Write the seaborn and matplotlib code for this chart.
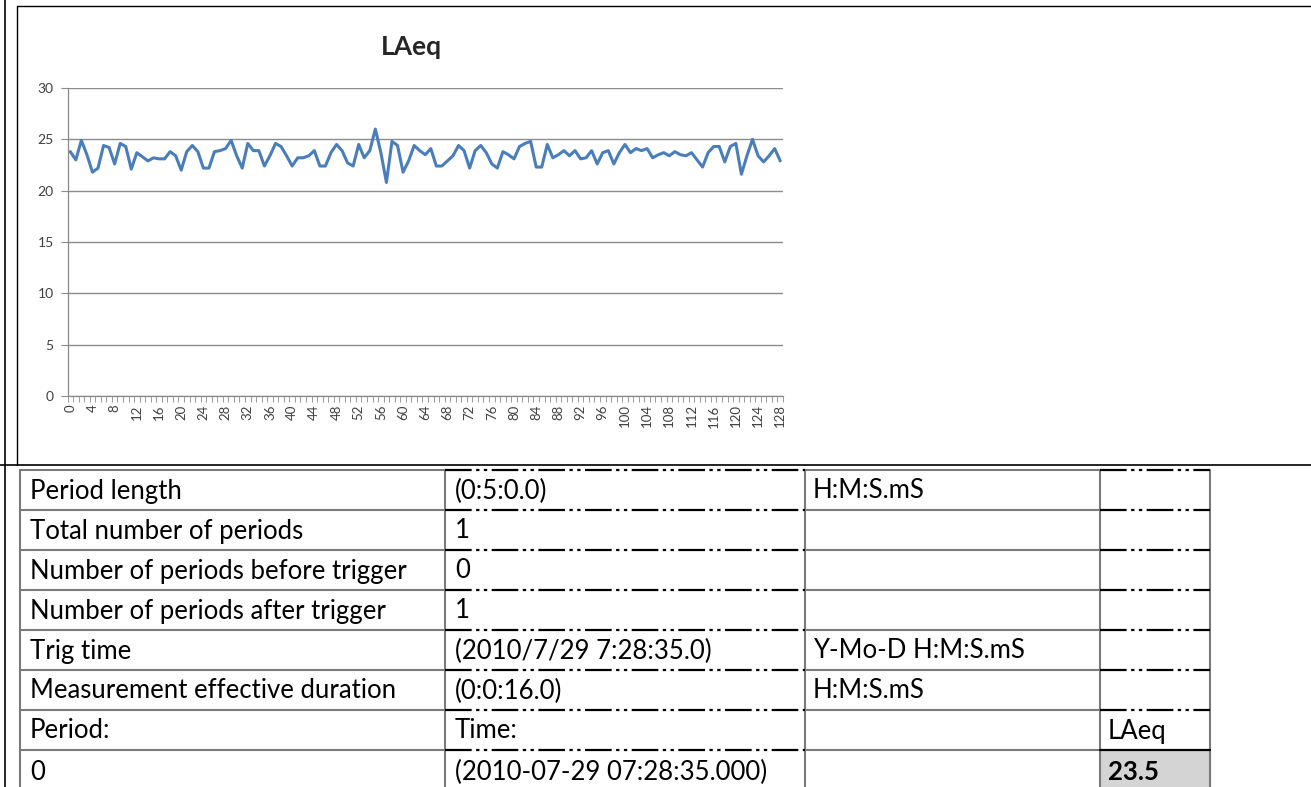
import matplotlib
matplotlib.use("Agg")
import matplotlib.pyplot as plt
import seaborn as sns
import numpy as np
import pandas as pd

# LAeq por periodo
laeq = [23.8, 23.0, 24.9, 23.5, 21.8, 22.2, 24.4, 24.2, 22.6, 24.6,
        24.3, 22.1, 23.7, 23.3, 22.9, 23.2, 23.1, 23.1, 23.8, 23.4,
        22.0, 23.8, 24.4, 23.8, 22.2, 22.2, 23.8, 23.9, 24.1, 24.9,
        23.4, 22.2, 24.6, 23.9, 23.9, 22.4, 23.4, 24.6, 24.3, 23.4,
        22.4, 23.2, 23.2, 23.4, 23.9, 22.4, 22.4, 23.7, 24.5, 23.9,
        22.7, 22.4, 24.5, 23.2, 23.9, 26.0, 23.7, 20.8, 24.8, 24.4,
        21.8, 22.9, 24.4, 23.9, 23.5, 24.1, 22.4, 22.4, 22.9, 23.4,
        24.4, 23.9, 22.2, 23.9, 24.4, 23.7, 22.6, 22.2, 23.8, 23.5,
        23.1, 24.3, 24.6, 24.8, 22.3, 22.3, 24.5, 23.2, 23.5, 23.9,
        23.4, 23.9, 23.1, 23.2, 23.9, 22.6, 23.7, 23.9, 22.6, 23.7,
        24.5, 23.7, 24.1, 23.9, 24.1, 23.2, 23.5, 23.7, 23.4, 23.8,
        23.5, 23.4, 23.7, 23.0, 22.3, 23.7, 24.3, 24.3, 22.8, 24.3,
        24.6, 21.6, 23.4, 25.0, 23.4, 22.8, 23.4, 24.1, 22.9]
periodo = list(range(len(laeq)))
yticks = [0, 5, 10, 15, 20, 25, 30]

# tabla de abajo
col0 = ["Period length", "Total number of periods", "Number of periods before trigger",
        "Number of periods after trigger", "Trig time", "Measurement effective duration",
        "Period:", "0"]
col1 = ["(0:5:0.0)", "1", "0", "1", "(2010/7/29 7:28:35.0)", "(0:0:16.0)",
        "Time:", "(2010-07-29 07:28:35.000)"]
col2 = ["H:M:S.mS", "", "", "", "Y-Mo-D H:M:S.mS", "H:M:S.mS", "", ""]
col3 = ["", "", "", "", "", "", "LAeq", "23.5"]

sns.set_style("white")
plt.rcParams['font.family'] = ['Lato', 'DejaVu Sans']

W, H = 1311, 787
fig = plt.figure(figsize=(W / 100, H / 100), dpi=100)

df = pd.DataFrame({'periodo': periodo, 'LAeq': laeq})
ax = fig.add_axes([67.5 / W, 1 - 396 / H, (783 - 67.5) / W, (396 - 88) / H])
sns.lineplot(data=df, x='periodo', y='LAeq', ax=ax, color='#4a7ebb', linewidth=2.2)
ax.set_xlim(-0.5, len(laeq) - 0.5)
ax.set_ylim(0, 30)
ax.set_yticks(yticks)
ax.set_xticks(periodo[::4])
ax.set_xticks(np.arange(-0.5, len(laeq), 1), minor=True)
ax.tick_params(axis='x', which='minor', length=4, width=0.6, color='#8a8a8a', direction='out', bottom=True)
ax.tick_params(axis='x', which='major', length=0, labelsize=9.5, labelcolor='#404040', rotation=90, pad=6)
ax.tick_params(axis='y', length=5, width=0.8, color='#8a8a8a', labelsize=10, labelcolor='#404040', left=True, pad=5)
ax.yaxis.grid(True, color='#8c8c8c', linewidth=1.0)
ax.set_axisbelow(True)
for s in ['top', 'right']:
    ax.spines[s].set_visible(False)
for s in ['left', 'bottom']:
    ax.spines[s].set_color('#8a8a8a')
    ax.spines[s].set_linewidth(0.9)
ax.set_xlabel('')
ax.set_ylabel('')
ax.set_title('LAeq', fontsize=19, fontweight='bold', pad=24, x=0.48)

# capa para marcos y tabla
ov = fig.add_axes([0, 0, 1, 1], zorder=-1)
ov.set_xlim(0, W)
ov.set_ylim(H, 0)
ov.axis('off')

ov.plot([17, W], [6, 6], color='black', lw=1.0)
ov.plot([17, 17], [6, 465], color='black', lw=1.0)
ov.plot([5, 5], [0, H], color='black', lw=1.2)
ov.plot([0, W], [465, 465], color='black', lw=1.2)

xs = [20, 445, 805, 1100, 1210]
ys = [470, 510, 550, 590, 630, 670, 710, 750, 790]
for x in xs:
    ov.plot([x, x], [ys[0], H], color='#7a7a7a', lw=1.5)
for i, y in enumerate(ys[:-1]):
    ov.plot([xs[0], xs[1]], [y, y], color='#7a7a7a', lw=1.5)
    ov.plot([xs[2], xs[3]], [y, y], color='#7a7a7a', lw=1.5)
    ov.plot([xs[1], xs[2]], [y, y], color='black', lw=1.6, dashes=(12, 2, 1.5, 2, 1.5, 2))
    if i == 7:
        ov.plot([xs[3], xs[4]], [y, y], color='black', lw=1.6)
    else:
        ov.plot([xs[3], xs[4]], [y, y], color='black', lw=1.6, dashes=(12, 2, 1.5, 2, 1.5, 2))

ov.fill_between([xs[3], xs[4]], ys[7], H, color='#d4d4d4', zorder=0)

tx = [30, 455, 813, 1108]
for i in range(len(col0)):
    yc = (ys[i] + ys[i + 1]) / 2 + 1
    if i == 7:
        yc = ys[i] + 22
    for j, col in enumerate([col0, col1, col2, col3]):
        if col[i]:
            ov.text(tx[j], yc, col[i], fontsize=18.5, va='center', ha='left', color='black',
                    fontweight='bold' if (i == 7 and j == 3) else 'normal')

fig.savefig('out.png', dpi=100)
